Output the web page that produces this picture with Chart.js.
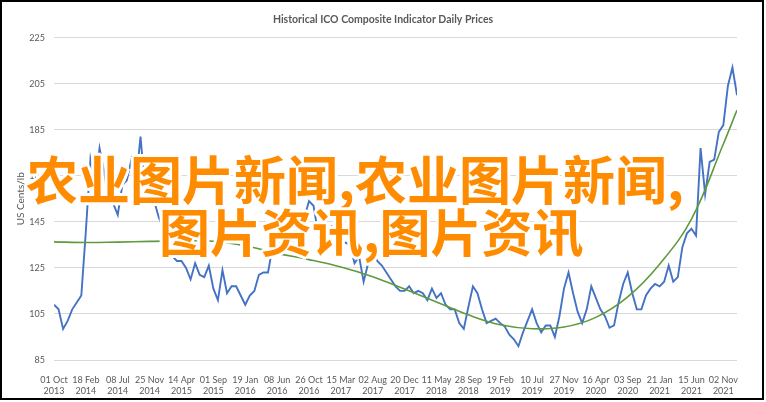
<!DOCTYPE html>
<html lang="zh">

<head>
    <meta charset="UTF-8">
    <title>Historical ICO Composite Indicator Daily Prices</title>
    <script src="https://cdn.jsdelivr.net/npm/chart.js"></script>
    <style>
        body {
            margin: 0;
            background: #fff;
        }

        #wrap {
            position: relative;
            width: 766px;
            height: 402px;
        }

        #frame {
            position: absolute;
            left: 0;
            top: 0;
            width: 764px;
            height: 400px;
            box-sizing: border-box;
            border: 2px solid #000;
            pointer-events: none;
        }

        .wm {
            position: absolute;
            font-family: "Noto Sans CJK SC", sans-serif;
            font-weight: 700;
            font-size: 51px;
            line-height: 51px;
            color: #ff8c00;
            white-space: nowrap;
            text-shadow: 3px 0 #fff, -3px 0 #fff, 0 3px #fff, 0 -3px #fff,
                2px 2px #fff, -2px 2px #fff, 2px -2px #fff, -2px -2px #fff;
        }
    </style>
</head>

<body>
    <div id="wrap">
        <canvas id="priceChart" width="766" height="402"></canvas>
        <div class="wm" style="left:26px; top:152px; font-size:52px;">农业图片新闻,农业图片新闻,</div>
        <div class="wm" style="left:159px; top:205px;">图片资讯,图片资讯</div>
        <div id="frame"></div>
    </div>

    <script>
        // x axis: days since 01 Oct 2013, one tick label every 140 days
        const tickDates = ['01 Oct 2013', '18 Feb 2014', '08 Jul 2014', '25 Nov 2014', '14 Apr 2015', '01 Sep 2015',
            '19 Jan 2016', '08 Jun 2016', '26 Oct 2016', '15 Mar 2017', '02 Aug 2017', '20 Dec 2017', '11 May 2018',
            '28 Sep 2018', '19 Feb 2019', '10 Jul 2019', '27 Nov 2019', '16 Apr 2020', '03 Sep 2020', '21 Jan 2021',
            '15 Jun 2021', '02 Nov 2021'];
        const tickStep = 140;
        const lastDay = 3000;

        // daily price, read every 20 days (US cents/lb)
        const sampleStep = 20;
        const priceValues = [
            109, 107, 98.5, 102, 107, 110, 113, 141, 172, 160,
            177, 167, 153, 153, 148, 161, 163, 172, 162, 182,
            159, 158, 154, 147, 142, 137, 130, 128, 128, 125,
            120, 127, 122, 121, 126, 116, 111, 124, 114, 117,
            117, 113, 109, 113, 115, 122, 123, 123, 134, 132,
            137, 140, 137, 137, 139, 147, 154, 152, 140, 135,
            140, 143, 141, 135, 136, 135, 127, 130, 119, 127,
            133, 128, 126, 123, 120, 117, 115, 115, 117, 114,
            115, 114, 111, 116, 112, 114, 109, 107, 107, 101,
            98.5, 108, 117, 114, 107, 101, 102, 103, 101, 99.5,
            96, 94, 91, 97, 102, 107, 101, 97, 100, 100,
            95, 104, 116, 123, 114, 106, 101, 107, 117, 112,
            107, 104, 99, 100, 110, 118, 123, 114, 107, 107,
            113, 116, 118, 117, 119, 126, 119, 121, 134, 140,
            142, 139, 177, 157, 171, 172, 184, 187, 204, 212,
            200
        ];

        // polynomial trend, read at each tick date and at the last day
        const trendValues = [136.3, 136.0, 136.2, 136.5, 136.8, 136.6, 134.6, 131.3, 128.6, 125.4, 121.2,
            115.8, 110.2, 104.6, 100.3, 98.6, 99.3, 103.5, 112.4, 126.6, 146.2, 178.8, 193.5];
        const trendDays = tickDates.map((d, i) => i * tickStep).concat(lastDay);

        const greyText = '#595959';
        const labelFont = { family: 'Lato', size: 9 };

        new Chart(document.getElementById('priceChart'), {
            type: 'line',
            data: {
                datasets: [{
                    label: 'Trend',
                    data: trendValues.map((v, i) => ({ x: trendDays[i], y: v })),
                    borderColor: '#5f9a3c',
                    borderWidth: 1.6,
                    pointRadius: 0,
                    tension: 0.4,
                    order: 0
                }, {
                    label: 'ICO Composite',
                    data: priceValues.map((v, i) => ({ x: i * sampleStep, y: v })),
                    borderColor: '#4472c4',
                    borderWidth: 1.9,
                    pointRadius: 0,
                    tension: 0,
                    order: 1
                }]
            },
            options: {
                responsive: false,
                animation: false,
                layout: {
                    // equal side padding keeps the title centred on the page
                    padding: { left: 29, right: 29, top: 0, bottom: 0 }
                },
                plugins: {
                    legend: { display: false },
                    tooltip: { enabled: false },
                    title: {
                        display: true,
                        text: 'Historical ICO Composite Indicator Daily Prices',
                        color: greyText,
                        font: { family: 'Lato', size: 10.5, weight: 'bold' },
                        padding: { top: 13, bottom: 12 }
                    }
                },
                scales: {
                    x: {
                        type: 'linear',
                        min: 0,
                        max: lastDay,
                        afterBuildTicks: axis => {
                            axis.ticks = tickDates.map((d, i) => ({ value: i * tickStep }));
                        },
                        afterFit: scale => { scale.height = 42; },
                        grid: { display: false },
                        border: { display: false },
                        ticks: {
                            autoSkip: false,
                            maxRotation: 0,
                            padding: 7,
                            color: greyText,
                            font: labelFont,
                            callback: (value, index) => {
                                const d = tickDates[index];
                                return [d.slice(0, 6), d.slice(7)];
                            }
                        }
                    },
                    y: {
                        min: 85,
                        max: 225,
                        afterFit: scale => { scale.width = 25; },
                        grid: { color: '#d9d9d9', lineWidth: 1, drawTicks: false },
                        border: { display: false },
                        ticks: {
                            stepSize: 20,
                            padding: 9,
                            color: greyText,
                            font: labelFont
                        },
                        title: {
                            display: true,
                            text: 'US Cents/lb',
                            color: greyText,
                            font: { family: 'Lato', size: 10 },
                            padding: { top: -14, bottom: 0 }
                        }
                    }
                }
            }
        });
    </script>
</body>

</html>
